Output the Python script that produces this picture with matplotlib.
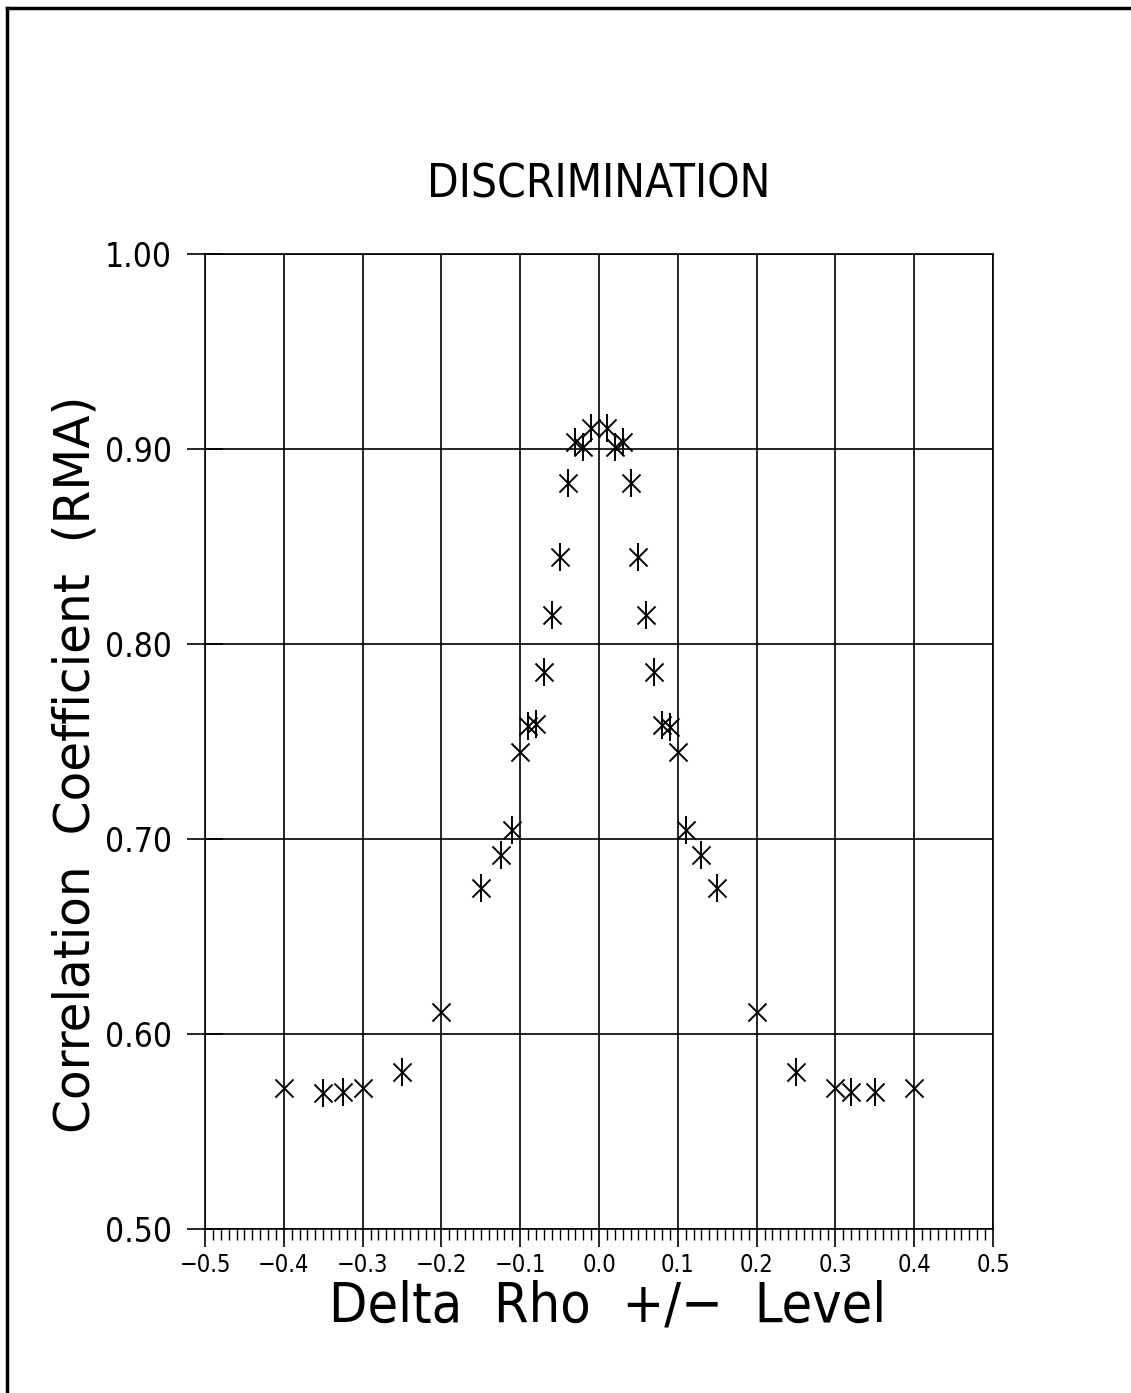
import matplotlib
matplotlib.use('Agg')
import matplotlib.pyplot as plt
from matplotlib.lines import Line2D
from matplotlib.ticker import MultipleLocator, FuncFormatter

# asterisk points (x with a vertical bar)
star_x = [-0.35, -0.325, -0.25, -0.15, -0.125, -0.11, -0.09, -0.08, -0.07, -0.06,
          -0.05, -0.04, -0.03, -0.02, -0.01, 0.01, 0.02, 0.03, 0.04, 0.05,
          0.06, 0.07, 0.08, 0.09, 0.11, 0.13, 0.15, 0.25, 0.32, 0.35]
star_y = [0.570, 0.5705, 0.5805, 0.6747, 0.6918, 0.7046, 0.758, 0.759, 0.7855, 0.8149,
          0.8448, 0.8824, 0.9037, 0.9012, 0.9106, 0.9106, 0.9012, 0.9037, 0.8824, 0.8448,
          0.8149, 0.7855, 0.7585, 0.7576, 0.7046, 0.6918, 0.6747, 0.5805, 0.5705, 0.5705]
# plain x points
cross_x = [-0.4, -0.3, -0.2, -0.1, 0.1, 0.2, 0.3, 0.4]
cross_y = [0.5725, 0.5722, 0.6114, 0.7448, 0.7448, 0.6114, 0.5725, 0.5725]

font = dict(family='DejaVu Sans', fontstretch='condensed')


def fmt(nd):
    def f(v, pos):
        s = '%.*f' % (nd, v)
        return s.replace('-', '\u2212')
    return FuncFormatter(f)


fig = plt.figure(figsize=(11.31, 13.93), dpi=100)
fig.set_facecolor('white')
ax = fig.add_axes([0.1813, 0.1177, 0.6967, 0.700])

ax.scatter(star_x, star_y, marker='x', s=13**2, c='black', linewidths=1.4, zorder=3)
ax.scatter(star_x, star_y, marker='|', s=20**2, c='black', linewidths=1.4, zorder=3)
ax.scatter(cross_x, cross_y, marker='x', s=13**2, c='black', linewidths=1.4, zorder=3)

ax.set_xlim(-0.5, 0.5)
ax.set_ylim(0.5, 1.0)
ax.xaxis.set_major_locator(MultipleLocator(0.1))
ax.xaxis.set_minor_locator(MultipleLocator(0.01))
ax.yaxis.set_major_locator(MultipleLocator(0.1))
ax.xaxis.set_major_formatter(fmt(1))
ax.yaxis.set_major_formatter(fmt(2))
ax.grid(True, which='major', color='black', linewidth=1.2)
for s in ax.spines.values():
    s.set_linewidth(1.2)

ax.tick_params(axis='x', which='major', direction='out', length=13, width=1.2, pad=4, labelsize=17)
ax.tick_params(axis='x', which='minor', direction='out', length=8, width=1.0)
ax.tick_params(axis='y', which='major', direction='inout', length=26, width=1.2, pad=11, labelsize=24)
for lab in ax.get_xticklabels() + ax.get_yticklabels():
    lab.set_fontstretch('condensed')

fig.text(0.529, 0.867, 'DISCRIMINATION', ha='center', va='center', fontsize=33, **font)
fig.text(0.067, 0.451, 'Correlation  Coefficient  (RMA)', ha='center', va='center',
         rotation=90, fontsize=35, family='DejaVu Sans')
fig.text(0.537, 0.062, 'Delta  Rho  +/\u2212  Level', ha='center', va='center',
         fontsize=40, **font)

# page frame: top and left edges
fig.add_artist(Line2D([0.006, 1.0], [0.9945, 0.9945], color='black', linewidth=2.5,
                      transform=fig.transFigure))
fig.add_artist(Line2D([0.006, 0.006], [0.0, 0.9945], color='black', linewidth=2.5,
                      transform=fig.transFigure))

fig.savefig('out.png', dpi=100)
